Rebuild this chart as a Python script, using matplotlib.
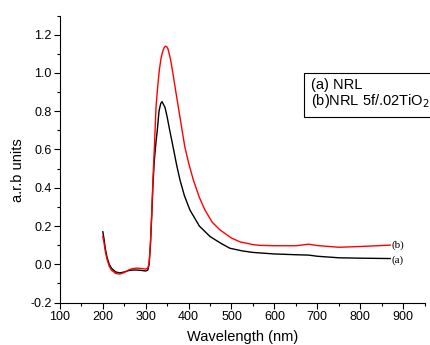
import numpy as np
import matplotlib
matplotlib.use('Agg')
import matplotlib.pyplot as plt
from matplotlib.ticker import MultipleLocator

plt.rcParams['font.family'] = ['Liberation Sans', 'DejaVu Sans']

# (a) NRL
wl_a = [200, 203, 206, 210, 215, 220, 230, 240, 250, 260, 270, 280, 290, 300, 305,
        308, 311, 314, 317, 320, 324, 327, 331, 335, 338, 345, 350, 356, 365, 372,
        380, 390, 403, 425, 450, 475, 496, 525, 550, 600, 650, 680, 700, 750, 800, 870]
abs_a = [0.17, 0.13, 0.08, 0.035, 0.0, -0.02, -0.04, -0.045, -0.04, -0.033, -0.03, -0.03, -0.032, -0.035, -0.03,
         0.0, 0.10, 0.25, 0.42, 0.54, 0.64, 0.70, 0.80, 0.84, 0.85, 0.82, 0.77, 0.70, 0.60, 0.52,
         0.44, 0.36, 0.284, 0.20, 0.145, 0.11, 0.084, 0.07, 0.062, 0.054, 0.05, 0.048, 0.042, 0.034, 0.032, 0.03]

# (b) NRL 5f/.02TiO2
wl_b = [200, 203, 206, 210, 215, 220, 230, 240, 250, 260, 270, 280, 290, 300, 305,
        308, 311, 314, 317, 320, 324, 328, 332, 336, 340, 343, 346, 349, 352, 358, 364, 372,
        382, 391, 400, 411, 425, 438, 455, 473, 500, 520, 550, 566, 600, 650, 680,
        700, 750, 800, 870]
abs_b = [0.145, 0.11, 0.065, 0.025, -0.01, -0.03, -0.048, -0.051, -0.043, -0.03, -0.022, -0.02, -0.022, -0.025, -0.02,
         0.01, 0.11, 0.27, 0.45, 0.60, 0.82, 0.93, 1.02, 1.08, 1.115, 1.132, 1.14, 1.137, 1.125, 1.07, 0.99, 0.877,
         0.74, 0.616, 0.53, 0.441, 0.35, 0.284, 0.22, 0.18, 0.137, 0.117, 0.103, 0.099, 0.097, 0.097, 0.105,
         0.098, 0.089, 0.093, 0.10]

fig = plt.figure(figsize=(4.31, 3.45), dpi=100)
ax = fig.add_axes([0.139, 0.123, 0.846, 0.832])

ax.plot(wl_a, abs_a, color='black', lw=1.0)
ax.plot(wl_b, abs_b, color='red', lw=1.0)

ax.set_xlim(100, 950)
ax.set_ylim(-0.2, 1.3)
ax.set_xticks(np.arange(100, 901, 100))
ax.set_yticks(np.arange(-0.2, 1.21, 0.2))
ax.set_yticklabels(['%.1f' % v for v in np.arange(-0.2, 1.21, 0.2)])
ax.xaxis.set_minor_locator(MultipleLocator(50))
ax.yaxis.set_minor_locator(MultipleLocator(0.1))
ax.tick_params(which='major', direction='out', length=4, width=0.8, labelsize=9, pad=2)
ax.tick_params(which='minor', direction='out', length=2, width=0.8)
ax.spines['top'].set_visible(False)
ax.spines['right'].set_visible(False)

ax.set_xlabel('Wavelength (nm)', fontsize=10.5, va='center')
ax.set_ylabel('a.r.b units', fontsize=10.5, va='center')
ax.xaxis.set_label_coords(0.5, -0.12)
ax.yaxis.set_label_coords(-0.115, 0.46)

serif = ['Liberation Serif', 'DejaVu Serif']
ax.text(874, 0.098, '(b)', family=serif, fontsize=8, va='center')
ax.text(874, 0.022, '(a)', family=serif, fontsize=8, va='center')

fig.text(311 / 431, 1 - 94 / 345, '(a) NRL\n(b)NRL 5f/.02TiO$_2$', fontsize=10.5, va='center', ha='left',
         linespacing=1.05,
         bbox=dict(boxstyle='square,pad=0.45', facecolor='white', edgecolor='black', lw=0.8))

fig.savefig('out.png', dpi=100)
